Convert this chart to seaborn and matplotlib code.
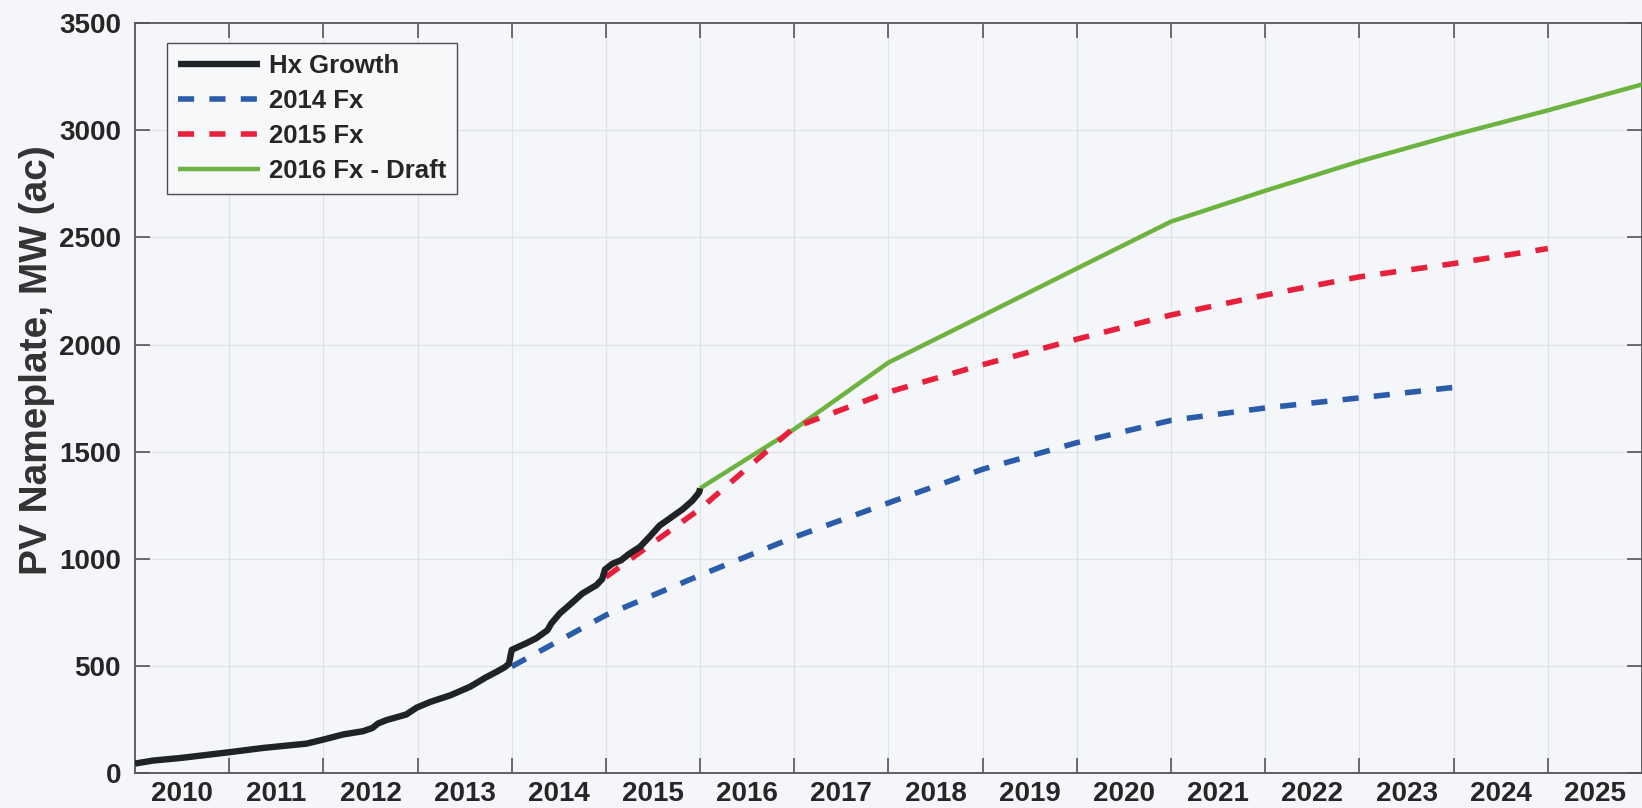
import matplotlib
matplotlib.use("Agg")
import matplotlib.pyplot as plt
import seaborn as sns
import pandas as pd
import numpy as np

# historical installed PV
hist_year = [2010.00, 2010.19, 2010.48, 2010.79, 2011.00, 2011.36, 2011.82, 2012.00,
             2012.21, 2012.42, 2012.52, 2012.58, 2012.67, 2012.88, 2012.99, 2013.13,
             2013.35, 2013.56, 2013.72, 2013.85, 2013.93, 2013.97, 2014.00, 2014.15,
             2014.26, 2014.38, 2014.42, 2014.51, 2014.61, 2014.75, 2014.90, 2014.96,
             2014.99, 2015.07, 2015.16, 2015.25, 2015.36, 2015.46, 2015.57, 2015.67,
             2015.82, 2015.92, 2015.99, 2016.00]
hist_mw = [44, 58, 70, 86, 97, 117, 137, 156,
           180, 195, 210, 231, 247, 273, 305, 331,
           363, 403, 445, 475, 495, 510, 575, 605,
           629, 667, 698, 745, 783, 838, 877, 905,
           950, 977, 993, 1024, 1055, 1101, 1155, 1186,
           1233, 1272, 1310, 1329]

# forecasts
fx2014_year = [2014, 2015, 2016, 2017, 2018, 2019, 2020, 2021, 2022, 2023, 2024]
fx2014_mw = [497, 737, 923, 1101, 1261, 1418, 1542, 1646, 1704, 1751, 1800]

fx2015_year = [2015, 2016, 2017, 2018, 2019, 2020, 2021, 2022, 2023, 2024, 2025]
fx2015_mw = [915, 1233, 1613, 1778, 1906, 2025, 2138, 2231, 2316, 2378, 2448]

fx2016_year = [2016, 2017, 2018, 2019, 2020, 2021, 2022, 2023, 2024, 2025, 2026]
fx2016_mw = [1329, 1605, 1916, 2135, 2355, 2574, 2718, 2855, 2978, 3093, 3214]

year_labels = [str(y) for y in range(2010, 2026)]

BG = "#f4f6f9"
TXT = "#262626"

sns.set_theme(style="ticks")
plt.rcParams['font.family'] = ['Liberation Sans', 'DejaVu Sans']
plt.rcParams['font.weight'] = 'bold'

fig = plt.figure(figsize=(16.42, 8.08), dpi=100, facecolor=BG)
ax = fig.add_axes([0.0822, 0.0433, 0.9178, 0.928])
ax.set_facecolor(BG)

df_hist = pd.DataFrame({'Year': hist_year, 'MW': hist_mw})
df14 = pd.DataFrame({'Year': fx2014_year, 'MW': fx2014_mw})
df15 = pd.DataFrame({'Year': fx2015_year, 'MW': fx2015_mw})
df16 = pd.DataFrame({'Year': fx2016_year, 'MW': fx2016_mw})

dash = (0, (2.9, 2.75))
sns.lineplot(data=df16, x='Year', y='MW', ax=ax, color="#6db33f", linewidth=3.2,
             label='2016 Fx - Draft', solid_capstyle='butt', zorder=3)
sns.lineplot(data=df14, x='Year', y='MW', ax=ax, color="#2a5caa", linewidth=4,
             linestyle=dash, label='2014 Fx', zorder=4)
sns.lineplot(data=df15, x='Year', y='MW', ax=ax, color="#e8203c", linewidth=4,
             linestyle=dash, label='2015 Fx', zorder=4)
sns.lineplot(data=df_hist, x='Year', y='MW', ax=ax, color="#1f2326", linewidth=4.6,
             label='Hx Growth', solid_capstyle='butt', zorder=5)

ax.set_xlim(2010, 2026)
ax.set_ylim(0, 3500)

# year boundaries as ticks/grid, labels at mid-year
ax.set_xticks(range(2011, 2026))
ax.set_xticklabels([])
ax.set_xticks([y + 0.5 for y in range(2010, 2026)], minor=True)
ax.set_xticklabels(year_labels, minor=True)
ax.set_yticks(range(0, 3501, 500))

ax.tick_params(axis='x', which='major', direction='in', length=11, width=1.2,
               color='#555555', top=True, bottom=True)
ax.tick_params(axis='x', which='minor', length=0, pad=6, labelsize=20, labelcolor=TXT)
ax.tick_params(axis='y', which='major', direction='in', length=11, width=1.2,
               color='#555555', left=True, right=True, pad=10, labelsize=20,
               labelcolor=TXT)

ax.grid(True, which='major', color='#dfe2e6', linewidth=0.9)
for s in ax.spines.values():
    s.set_visible(True)
    s.set_color('#555555')
    s.set_linewidth(1.3)

ax.set_xlabel('')
ax.set_ylabel('PV Nameplate, MW (ac)', fontsize=28, fontweight='bold', color='#333333')
ax.yaxis.set_label_coords(-0.053, 0.551)

handles, labels = ax.get_legend_handles_labels()
order = ['Hx Growth', '2014 Fx', '2015 Fx', '2016 Fx - Draft']
hmap = dict(zip(labels, handles))
leg = ax.legend([hmap[k] for k in order], order, loc='upper left',
                bbox_to_anchor=(0.0212, 0.9733), borderaxespad=0, fancybox=False,
                framealpha=1, facecolor='#f7f8fa', edgecolor='#4d4d4d',
                prop={'size': 18.5, 'weight': 'bold'}, handlelength=3.2,
                handletextpad=0.35, labelspacing=0.43, borderpad=0.42)
leg.get_frame().set_linewidth(1.0)
for t in leg.get_texts():
    t.set_color(TXT)

fig.savefig('out.png', dpi=100, facecolor=BG)
